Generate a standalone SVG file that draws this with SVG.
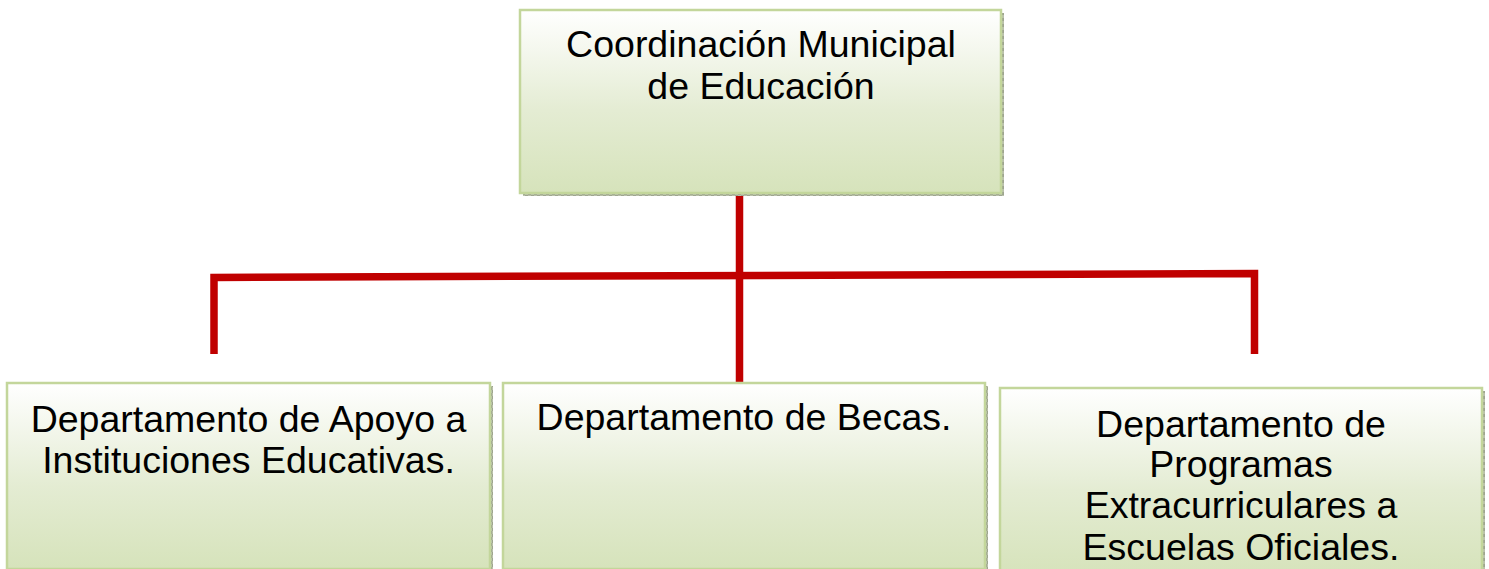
<svg xmlns="http://www.w3.org/2000/svg" width="1489" height="569" viewBox="0 0 1489 569">
<defs>
<linearGradient id="g" x1="0" y1="0" x2="0" y2="1">
<stop offset="0" stop-color="#ffffff"/>
<stop offset="0.55" stop-color="#e4ecd3"/>
<stop offset="1" stop-color="#d6e3bb"/>
</linearGradient>
<pattern id="sh" width="6" height="6" patternUnits="userSpaceOnUse">
<rect width="6" height="6" fill="#b9c0aa"/>
<rect width="3" height="3" fill="#9ea58f"/>
<rect x="3" y="3" width="3" height="3" fill="#9ea58f"/>
</pattern>
</defs>
<style>
.shadow{fill:url(#sh)}
.box{fill:url(#g);stroke:#c3d69b;stroke-width:2.5}
.t{font-family:"Liberation Sans",Arial,sans-serif;font-size:37.5px;fill:#000;text-anchor:middle}
.c{fill:none;stroke:#c00000;stroke-width:7.5;stroke-linecap:butt;stroke-linejoin:miter}
</style>
<rect width="1489" height="569" fill="#fff"/>
<g id="connectors">
<line class="c" x1="739.5" y1="194" x2="739.5" y2="383"/>
<polyline class="c" points="214,354 214,277.5 1254.5,273.5 1254.5,354"/>
</g>
<g id="n-coordinacion">
<rect class="shadow" x="523" y="13" width="481" height="183"/>
<rect class="box" x="520" y="10" width="481" height="183"/>
<text class="t" x="761" y="57">Coordinación Municipal</text>
<text class="t" x="761" y="99">de Educación</text>
</g>
<g id="n-apoyo">
<rect class="shadow" x="10" y="386" width="483" height="186"/>
<rect class="box" x="7" y="383" width="483" height="186"/>
<text class="t" x="248.5" y="432">Departamento de Apoyo a</text>
<text class="t" x="248.5" y="473">Instituciones Educativas.</text>
</g>
<g id="n-becas">
<rect class="shadow" x="506" y="386" width="482" height="186"/>
<rect class="box" x="503" y="383" width="482" height="186"/>
<text class="t" x="744" y="430">Departamento de Becas.</text>
</g>
<g id="n-programas">
<rect class="shadow" x="1003" y="391" width="482" height="186"/>
<rect class="box" x="1000" y="388" width="482" height="186"/>
<text class="t" x="1241" y="437">Departamento de</text>
<text class="t" x="1241" y="477">Programas</text>
<text class="t" x="1241" y="518">Extracurriculares a</text>
<text class="t" x="1241" y="560">Escuelas Oficiales.</text>
</g>
</svg>
